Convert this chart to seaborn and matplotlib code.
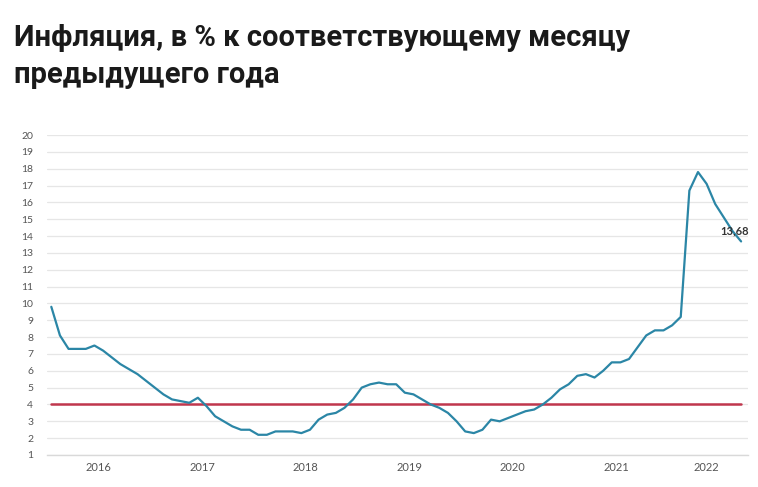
import matplotlib
matplotlib.use("Agg")
import matplotlib.pyplot as plt
import seaborn as sns
import pandas as pd
import numpy as np

years = ["2016", "2017", "2018", "2019", "2020", "2021", "2022"]
inflation_2016 = [9.8, 8.1, 7.3, 7.3, 7.3, 7.5, 7.2, 6.8, 6.4, 6.1, 5.8, 5.4]
inflation_2017 = [5.0, 4.6, 4.3, 4.2, 4.1, 4.4, 3.9, 3.3, 3.0, 2.7, 2.5, 2.5]
inflation_2018 = [2.2, 2.2, 2.4, 2.4, 2.4, 2.3, 2.5, 3.1, 3.4, 3.5, 3.8, 4.3]
inflation_2019 = [5.0, 5.2, 5.3, 5.2, 5.2, 4.7, 4.6, 4.3, 4.0, 3.8, 3.5, 3.0]
inflation_2020 = [2.4, 2.3, 2.5, 3.1, 3.0, 3.2, 3.4, 3.6, 3.7, 4.0, 4.4, 4.9]
inflation_2021 = [5.2, 5.7, 5.8, 5.6, 6.0, 6.5, 6.5, 6.7, 7.4, 8.1, 8.4, 8.4]
inflation_2022 = [8.7, 9.2, 16.7, 17.8, 17.1, 15.9, 15.1, 14.3, 13.68]
target = 4.0
last_label = "13,68"
y_ticks = list(range(1, 21))

values = (inflation_2016 + inflation_2017 + inflation_2018 + inflation_2019
          + inflation_2020 + inflation_2021 + inflation_2022)
df = pd.DataFrame({"month": np.arange(len(values)), "value": values})
df["target"] = target

sns.set_theme(style="white")
plt.rcParams["font.family"] = ["Lato", "DejaVu Sans"]

fig = plt.figure(figsize=(7.58, 4.87), dpi=100)
W, H = 758, 487
ax = fig.add_axes([47 / W, (H - 455) / H, (748 - 47) / W, (455 - 135) / H])

sns.lineplot(data=df, x="month", y="target", ax=ax, color="#c0374d", lw=1.8)
sns.lineplot(data=df, x="month", y="value", ax=ax, color="#2b86a6", lw=1.6)

ax.set_xlim(-0.5, 80.8)
ax.set_ylim(1, 20)
ax.set_yticks(y_ticks)
ax.yaxis.grid(True, color="#e6e6e6", lw=0.9)
ax.set_axisbelow(True)
ax.set_xlabel("")
ax.set_ylabel("")

for s in ["left", "right", "top"]:
    ax.spines[s].set_visible(False)
ax.spines["bottom"].set_color("#d9d9d9")
ax.spines["bottom"].set_linewidth(1.0)

bounds = [-0.5 + 12 * i for i in range(len(years))] + [len(values) - 0.5]
centers = [(bounds[i] + bounds[i + 1]) / 2 for i in range(len(years))]
ax.set_xticks(bounds)
ax.set_xticklabels([])
ax.tick_params(axis="x", which="major", length=17, color="#d9d9d9", width=1.0, direction="out")
ax.set_xticks(centers, minor=True)
ax.set_xticklabels(years, minor=True)
ax.tick_params(axis="x", which="minor", length=0, pad=5, labelsize=8, labelcolor="#555555")
ax.tick_params(axis="y", length=0, pad=10, labelsize=7.5, labelcolor="#555555")

ax.annotate(last_label, xy=(df["month"].iloc[-1], df["value"].iloc[-1]),
            xytext=(-5, 4), textcoords="offset points", ha="center", va="bottom",
            fontsize=8, fontweight="bold", color="#333333")

fig.text(14 / W, 1 - 38 / H, "Инфляция, в % к соответствующему месяцу",
         fontsize=21, fontweight="bold", color="#1a1a1a", va="center", ha="left",
         family=["Roboto", "DejaVu Sans"])
fig.text(14 / W, 1 - 75 / H, "предыдущего года",
         fontsize=21, fontweight="bold", color="#1a1a1a", va="center", ha="left",
         family=["Roboto", "DejaVu Sans"])

fig.savefig("out.png", dpi=100, facecolor="white")
